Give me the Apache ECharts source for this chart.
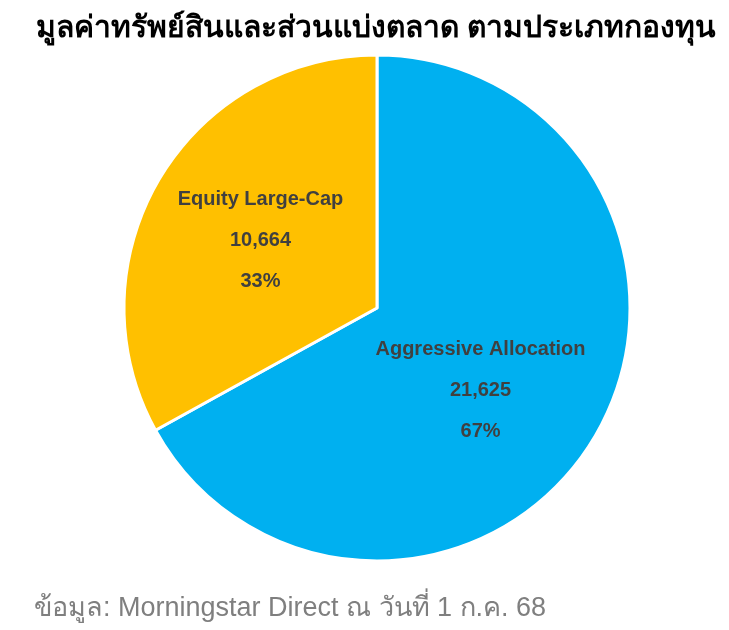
<!DOCTYPE html>
<html><head><meta charset="utf-8">
<script src="https://cdn.jsdelivr.net/npm/echarts@6/dist/echarts.min.js"></script>
<style>html,body{margin:0;padding:0;background:#fff}#c{width:729px;height:630px}</style>
</head><body><div id="c"></div>
<script>
const categories = ['Aggressive Allocation', 'Equity Large-Cap'];
const values = [21625, 10664];
const percents = ['67%', '33%'];
const colors = ['#00B0F0', '#FFC000'];
const offsets = [[-8, 17], [-5, -2]];

const chart = echarts.init(document.getElementById('c'), null, {renderer: 'canvas'});
chart.setOption({
  backgroundColor: '#fff',
  animation: false,
  title: [{
    text: 'มูลค่าทรัพย์สินและส่วนแบ่งตลาด ตามประเภทกองทุน',
    left: 31, top: 9,
    textStyle: {fontSize: 30, fontWeight: 'bold', color: '#000', fontFamily: 'Liberation Sans, Arial, sans-serif'}
  }, {
    text: 'ข้อมูล: Morningstar Direct ณ วันที่ 1 ก.ค. 68',
    left: 29, top: 590,
    textStyle: {fontSize: 27, fontWeight: 'normal', color: '#7F7F7F', fontFamily: 'Liberation Sans, Arial, sans-serif'}
  }],
  series: [{
    type: 'pie',
    center: [377, 308],
    radius: [0, 253],
    startAngle: 90,
    clockwise: true,
    itemStyle: {borderColor: '#fff', borderWidth: 3},
    label: {
      position: 'inside',
      formatter: p => p.name + '\n' + p.value.toLocaleString('en-US') + '\n' + percents[p.dataIndex],
      fontSize: 20, fontWeight: 'bold', color: '#404040', lineHeight: 41,
      fontFamily: 'Liberation Sans, Arial, sans-serif'
    },
    labelLine: {show: false},
    emphasis: {disabled: true},
    data: categories.map((n, i) => ({name: n, value: values[i], itemStyle: {color: colors[i]}, label: {offset: offsets[i]}}))
  }]
});
</script></body></html>
